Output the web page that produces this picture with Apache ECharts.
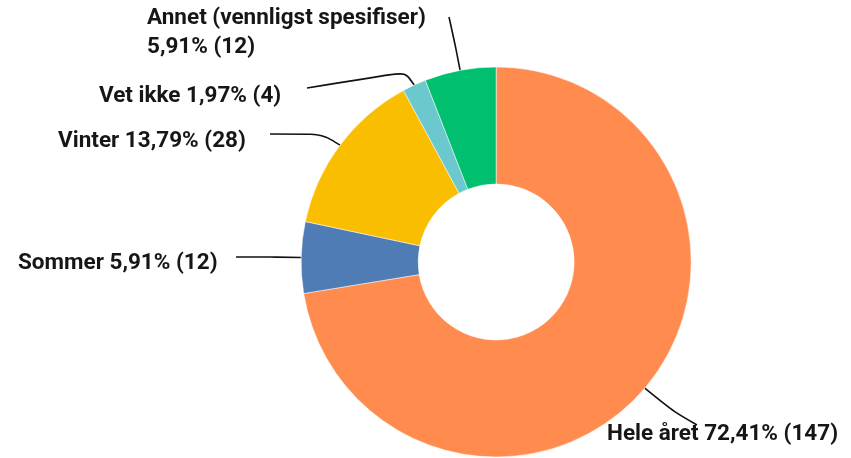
<!DOCTYPE html>
<html lang="nb">
<head>
    <meta charset="UTF-8">
    <title>Hele året / Sommer / Vinter</title>
    <script src="https://cdn.jsdelivr.net/npm/echarts@6/dist/echarts.min.js"></script>
    <style>
        html, body { margin: 0; padding: 0; background: #ffffff; }
        #main { width: 851px; height: 458px; }
    </style>
</head>
<body>
<div id="main"></div>
<script type="text/javascript">
    // data
    var categories = ['Hele året', 'Sommer', 'Vinter', 'Vet ikke', 'Annet (vennligst spesifiser)'];
    var counts = [147, 12, 28, 4, 12];
    var colors = ['#FF8B4F', '#507CB6', '#F9BE00', '#6BC8CD', '#00BF6F'];

    // label anchors (left edge, vertical middle) and where each leader line ends
    var labelPos = [[607, 434], [18, 263], [58, 141], [99, 96], [147, 33]];
    var lineBend = [[674, 412], [270, 257], [322, 134], [405, 72], [455, 44]];
    var lineEnd = [[697, 425], [236, 257], [270, 134], [307, 88], [449, 17]];

    var total = counts.reduce(function (a, b) { return a + b; }, 0);

    var chart = echarts.init(document.getElementById('main'));

    var pieData = categories.map(function (name, i) {
        return { name: name, value: counts[i], itemStyle: { color: colors[i] } };
    });

    var option = {
        backgroundColor: '#ffffff',
        animation: false,
        series: [{
            type: 'pie',
            center: ['58.3%', '57.2%'],
            radius: [78, 195],
            startAngle: 90,
            clockwise: true,
            data: pieData,
            itemStyle: { borderColor: '#ffffff', borderWidth: 0.5 },
            label: {
                show: true,
                position: 'outside',
                color: '#161616',
                fontFamily: 'Roboto',
                fontWeight: 'bold',
                fontSize: 22.5,
                lineHeight: 29,
                align: 'left',
                overflow: 'none',
                formatter: function (p) {
                    var pct = (p.value / total * 100).toFixed(2).replace('.', ',') + '% (' + p.value + ')';
                    if (p.dataIndex === 4) return p.name + '\n' + pct;
                    return p.name + ' ' + pct;
                }
            },
            labelLine: {
                show: true,
                length: 20,
                length2: 30,
                smooth: 0.3,
                lineStyle: { color: '#111111', width: 1.6 }
            },
            labelLayout: function (params) {
                var i = params.dataIndex;
                var pos = labelPos[i];
                var out = { x: pos[0], y: pos[1], align: 'left', verticalAlign: 'middle' };
                if (params.labelLinePoints) {
                    out.labelLinePoints = [params.labelLinePoints[0], lineBend[i], lineEnd[i]];
                }
                return out;
            }
        }]
    };

    chart.setOption(option);
</script>
</body>
</html>
